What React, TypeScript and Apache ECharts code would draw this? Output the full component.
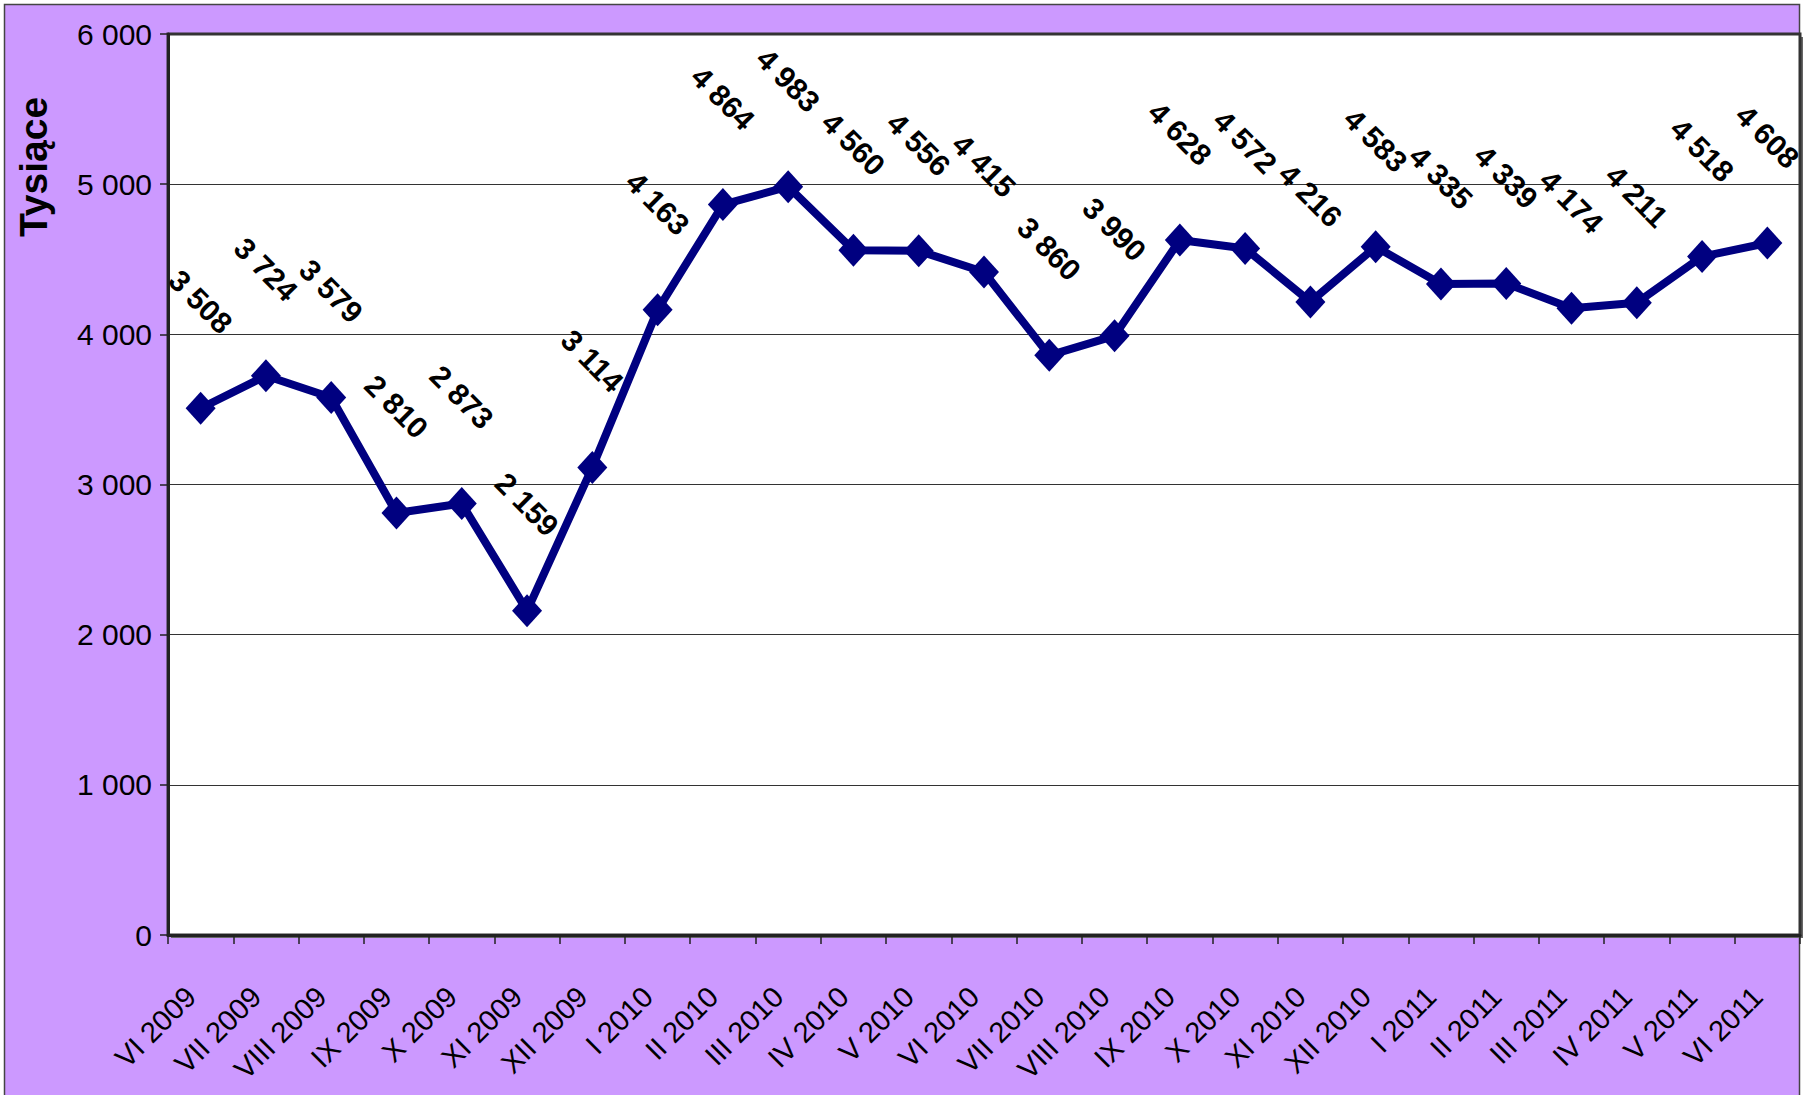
import React, { useEffect, useRef } from "react";
import * as echarts from "echarts";

const categories = [
  "VI 2009", "VII 2009", "VIII 2009", "IX 2009", "X 2009", "XI 2009", "XII 2009",
  "I 2010", "II 2010", "III 2010", "IV 2010", "V 2010", "VI 2010", "VII 2010",
  "VIII 2010", "IX 2010", "X 2010", "XI 2010", "XII 2010", "I 2011", "II 2011",
  "III 2011", "IV 2011", "V 2011", "VI 2011",
];

const values = [
  3508, 3724, 3579, 2810, 2873, 2159, 3114, 4163, 4864, 4983, 4560, 4556, 4415,
  3860, 3990, 4628, 4572, 4216, 4583, 4335, 4339, 4174, 4211, 4518, 4608,
];

const yAxisTitle = "Tysiące";
const yMin = 0;
const yMax = 6000;
const yInterval = 1000;

const FONT = "Arial, 'Liberation Sans', sans-serif";

const fmt = (v: number) => String(v).replace(/\B(?=(\d{3})+(?!\d))/g, " ");

export default function App() {
  const ref = useRef<HTMLDivElement>(null);

  useEffect(() => {
    if (!ref.current) return;
    const chart = echarts.init(ref.current, undefined, { renderer: "svg" });
    const gl = 168, gt = 34, gr = 1800, gb = 935;
    chart.setOption({
      animation: false,
      backgroundColor: "#ffffff",
      graphic: [
        {
          type: "rect",
          z: -30,
          shape: { x: 4.5, y: 4.5, width: 1795, height: 1100 },
          style: { fill: "#CC99FF", stroke: "#444444", lineWidth: 1.5 },
        },
        {
          type: "rect",
          z: -20,
          shape: { x: gl + 3, y: gt + 3, width: gr - gl, height: gb - gt },
          style: { fill: "#666666" },
        },
        {
          type: "rect",
          z: -10,
          shape: { x: gl, y: gt, width: gr - gl, height: gb - gt },
          style: { fill: "#ffffff", stroke: "#333333", lineWidth: 3 },
        },
        {
          type: "text",
          x: 33,
          y: 167,
          rotation: Math.PI / 2,
          style: {
            text: yAxisTitle,
            font: `bold 39px ${FONT}`,
            textAlign: "center",
            textVerticalAlign: "middle",
            fill: "#000000",
          },
        },
      ],
      grid: {
        left: gl,
        top: gt,
        right: 1806 - gr,
        bottom: 1095 - gb,
        containLabel: false,
        show: false,
      },
      xAxis: {
        type: "category",
        data: categories,
        boundaryGap: true,
        axisLine: { show: true, lineStyle: { color: "#222222", width: 3 } },
        axisTick: {
          show: true,
          length: 9,
          alignWithLabel: false,
          interval: 0,
          lineStyle: { color: "#222222", width: 1.5 },
        },
        axisLabel: {
          interval: 0,
          rotate: 45,
          margin: 47,
          padding: [0, 14, 0, 0],
          fontSize: 29,
          color: "#000000",
          fontFamily: FONT,
        },
        splitLine: { show: false },
      },
      yAxis: {
        type: "value",
        min: yMin,
        max: yMax,
        interval: yInterval,
        axisLine: { show: true, lineStyle: { color: "#222222", width: 3 } },
        axisTick: { show: true, length: 8, lineStyle: { color: "#222222", width: 1.5 } },
        axisLabel: {
          margin: 16,
          fontSize: 30,
          color: "#000000",
          fontFamily: FONT,
          formatter: (v: number) => fmt(v),
        },
        splitLine: { show: true, lineStyle: { color: "#333333", width: 1 } },
      },
      series: [
        {
          type: "line",
          data: values,
          symbol: "diamond",
          symbolSize: [30, 33],
          lineStyle: { color: "#000080", width: 8 },
          itemStyle: { color: "#000080" },
          label: {
            show: true,
            position: "top",
            distance: 90,
            rotate: -45,
            align: "center",
            verticalAlign: "middle",
            fontSize: 30,
            fontWeight: "bold",
            color: "#000000",
            fontFamily: FONT,
            formatter: (p: any) => fmt(p.value),
          },
          z: 5,
        },
      ],
    });
    return () => chart.dispose();
  }, []);

  return (
    <div
      ref={ref}
      style={{ position: "fixed", left: 0, top: 0, width: 1806, height: 1095 }}
    />
  );
}
